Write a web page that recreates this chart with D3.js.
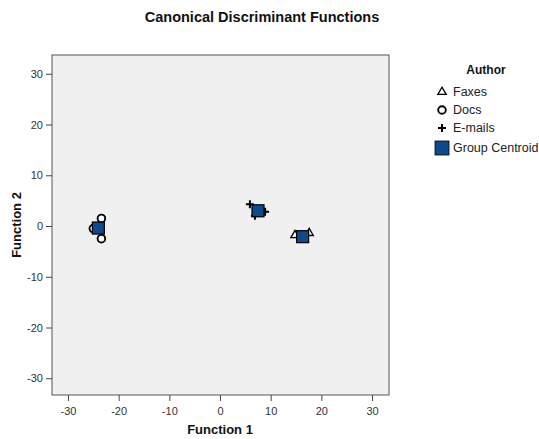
<!DOCTYPE html>
<html><head><meta charset="utf-8">
<script src="https://cdn.jsdelivr.net/npm/d3@7"></script>
<style>body{margin:0;background:#fff;} text{font-family:"Liberation Sans",Arial,sans-serif;}</style>
</head><body>
<svg id="chart" width="539" height="439"></svg>
<script>
const groups = ["Faxes", "Docs", "E-mails"];
const faxesX = [14.8, 17.6, 16.6];
const faxesY = [-1.8, -1.4, -2.6];
const docsX = [-23.4, -23.4, -25.0];
const docsY = [1.5, -2.5, -0.5];
const emailsX = [5.9, 8.9, 6.9];
const emailsY = [4.3, 2.8, 2.0];
const centroidX = [16.3, -24.0, 7.5];
const centroidY = [-2.1, -0.4, 3.0];
const xTicks = [-30, -20, -10, 0, 10, 20, 30];
const yTicks = [-30, -20, -10, 0, 10, 20, 30];

const svg = d3.select("#chart");
const pL = 52, pR = 389, pT = 55, pB = 395;
const x = d3.scaleLinear().domain([-33.15, 33.35]).range([pL, pR]);
const y = d3.scaleLinear().domain([-33.3, 33.7]).range([pB, pT]);

svg.append("rect").attr("x", pL).attr("y", pT).attr("width", pR-pL).attr("height", pB-pT)
  .attr("fill", "#f0f0f0").attr("stroke", "#555").attr("stroke-width", 1);

const fmt = d => String(d);
const xa = svg.append("g").attr("transform", `translate(0,${pB})`)
  .call(d3.axisBottom(x).tickValues(xTicks).tickSize(6).tickSizeOuter(0).tickFormat(fmt));
const ya = svg.append("g").attr("transform", `translate(${pL},0)`)
  .call(d3.axisLeft(y).tickValues(yTicks).tickSize(6).tickSizeOuter(0).tickFormat(fmt));
[xa, ya].forEach(a => {
  a.select(".domain").remove();
  a.selectAll("line").attr("stroke", "#444");
  a.selectAll("text").attr("fill", "#333").style("font-size", "11px").style("font-family", "Liberation Sans, Arial, sans-serif");
});
xa.selectAll("text").attr("dy", "1.0em");

function triangle(g, cx, cy) {
  g.append("path").attr("d", d3.symbol().type(d3.symbolTriangle).size(30)())
   .attr("transform", `translate(${cx},${cy})`).attr("fill", "none").attr("stroke", "#000").attr("stroke-width", 1.3);
}
function circle(g, cx, cy) {
  g.append("circle").attr("cx", cx).attr("cy", cy).attr("r", 3.8).attr("fill", "#fff").attr("stroke", "#000").attr("stroke-width", 1.9);
}
function plus(g, cx, cy) {
  g.append("path").attr("d", `M${cx-4},${cy}H${cx+4}M${cx},${cy-4}V${cy+4}`).attr("stroke", "#000").attr("stroke-width", 2);
}
function square(g, cx, cy, s) {
  g.append("rect").attr("x", cx-s/2).attr("y", cy-s/2).attr("width", s).attr("height", s)
   .attr("fill", "#0f4a8c").attr("stroke", "#000").attr("stroke-width", 1.2);
}

const pts = svg.append("g");
faxesX.forEach((v,i) => triangle(pts, x(v), y(faxesY[i])));
docsX.forEach((v,i) => circle(pts, x(v), y(docsY[i])));
emailsX.forEach((v,i) => plus(pts, x(v), y(emailsY[i])));
centroidX.forEach((v,i) => square(pts, x(v), y(centroidY[i]), 12));

svg.append("text").attr("x", 262).attr("y", 22).attr("text-anchor", "middle")
  .style("font-size", "14.5px").style("font-weight", "bold").attr("fill", "#111").text("Canonical Discriminant Functions");
svg.append("text").attr("x", 220).attr("y", 434).attr("text-anchor", "middle")
  .style("font-size", "13px").style("font-weight", "bold").attr("fill", "#111").text("Function 1");
svg.append("text").attr("transform", "translate(21,225) rotate(-90)").attr("text-anchor", "middle")
  .style("font-size", "13px").style("font-weight", "bold").attr("fill", "#111").text("Function 2");

const lg = svg.append("g");
lg.append("text").attr("x", 486).attr("y", 74).attr("text-anchor", "middle")
  .style("font-size", "12px").style("font-weight", "bold").attr("fill", "#111").text("Author");
const ly = [92, 110, 128, 148];
triangle(lg, 442, 92);
circle(lg, 442, 110);
plus(lg, 442, 128);
lg.append("rect").attr("x", 435).attr("y", 141).attr("width", 14).attr("height", 14).attr("fill", "#0f4a8c").attr("stroke", "#000").attr("stroke-width", 0.8);
const legendLabels = groups.concat(["Group Centroid"]);
legendLabels.forEach((t,i) => lg.append("text").attr("x", 453).attr("y", ly[i]+4)
  .style("font-size", "12.5px").attr("fill", "#222").text(t));
</script>
</body></html>
